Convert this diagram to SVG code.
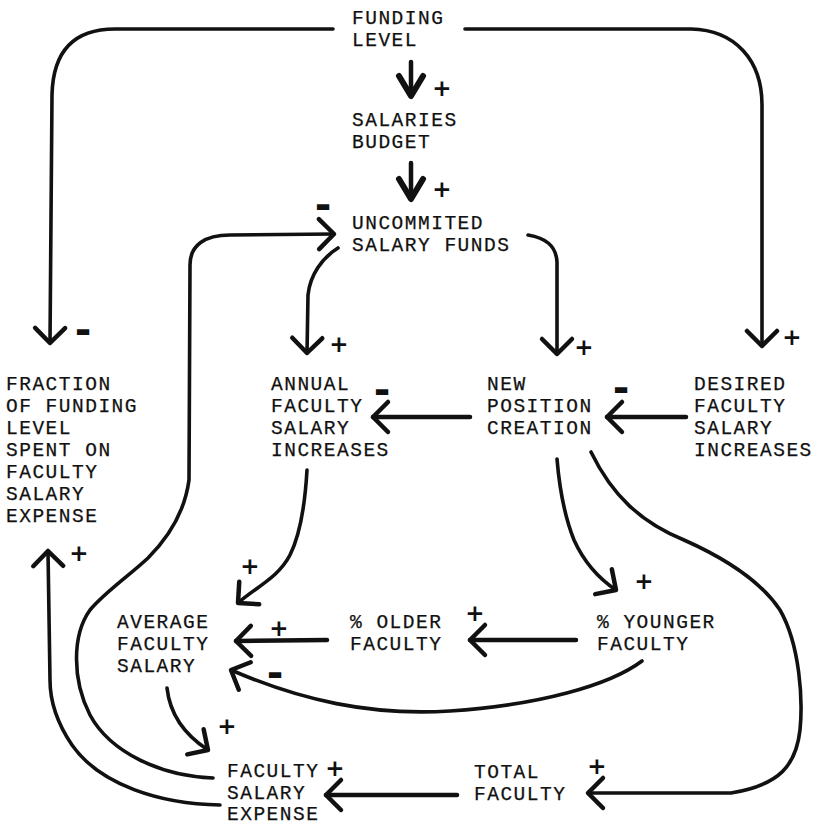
<svg xmlns="http://www.w3.org/2000/svg" width="816" height="827" viewBox="0 0 816 827">
<style>
.t{font-family:"Liberation Mono","DejaVu Sans Mono",monospace;font-size:19.5px;letter-spacing:1.5px;fill:#111;stroke:#111;stroke-width:0.25}
.s{font-family:"DejaVu Sans","Liberation Sans",sans-serif;font-weight:bold;font-size:23px;fill:#111;text-anchor:middle;dominant-baseline:central}
.m{font-family:"DejaVu Sans","Liberation Sans",sans-serif;font-weight:bold;font-size:40px;fill:#111;text-anchor:middle;dominant-baseline:central}
.c{fill:none;stroke:#111;stroke-width:3.6;stroke-linecap:round;stroke-linejoin:round}
.h{stroke-width:4.5}
</style>
<defs>
<marker id="ah" viewBox="-22 -20 27 40" refX="0" refY="0" markerWidth="27" markerHeight="40" orient="auto" markerUnits="userSpaceOnUse" overflow="visible">
<path d="M-15,-15 L0,0 L-15,15" fill="none" stroke="#111" stroke-width="4.5" stroke-linecap="round" stroke-linejoin="round"/>
</marker>
<marker id="ah2" viewBox="-26 -16 31 32" refX="0" refY="0" markerWidth="31" markerHeight="32" orient="auto" markerUnits="userSpaceOnUse" overflow="visible">
<path d="M-20,-12 L0,0 L-20,12" fill="none" stroke="#111" stroke-width="6" stroke-linecap="round" stroke-linejoin="round"/>
</marker>
</defs>

<g id="connectors">
<path class="c h" d="M411,62 L411,96" marker-end="url(#ah2)"/>
<path class="c h" d="M411,163 L411,199" marker-end="url(#ah2)"/>
<path class="c" d="M333,29 L115,29 C75,29 53,50 52,95 L50,343" marker-end="url(#ah)"/>
<path class="c" d="M465,29 L691,29 C735,30 762,60 762,105 L762,346" marker-end="url(#ah)"/>
<path class="c" d="M213,778 C160,776 110,752 90,715 C72,680 72,635 90,610 C105,592 130,575 148,558 C170,536 185,510 189,480 L190,265 C190,245 205,235 230,235 L334,234" marker-end="url(#ah)"/>
<path class="c" d="M220,805 C160,804 100,785 72,745 C55,720 50,700 50,680 L48,551" marker-end="url(#ah)"/>
<path class="c" d="M338,248 C322,258 310,275 308,295 L307,353" marker-end="url(#ah)"/>
<path class="c" d="M528,235 C545,238 556,245 557,262 L557,354" marker-end="url(#ah)"/>
<path class="c h" d="M470,417 L373,417" marker-end="url(#ah)"/>
<path class="c h" d="M686,417 L607,417" marker-end="url(#ah)"/>
<path class="c" d="M307,470 C305,505 300,535 290,555 C278,578 256,587 238,603" marker-end="url(#ah)"/>
<path class="c" d="M557,459 C560,495 566,520 574,540 C584,562 598,578 616,590" marker-end="url(#ah)"/>
<path class="c" d="M591,452 C612,495 640,522 684,540 C720,556 760,580 780,610 C800,645 803,700 800,730 C796,765 780,785 731,793 L588,793" marker-end="url(#ah)"/>
<path class="c h" d="M327,640 L236,641" marker-end="url(#ah)"/>
<path class="c h" d="M576,640 L470,640" marker-end="url(#ah)"/>
<path class="c" d="M642,661 C610,685 540,705 450,711 C370,716 300,700 231,670" marker-end="url(#ah)"/>
<path class="c" d="M167,688 C170,715 185,735 208,750" marker-end="url(#ah)"/>
<path class="c h" d="M457,795 L326,795" marker-end="url(#ah)"/>
</g>

<g id="signs">
<text class="s" x="442" y="88">+</text>
<text class="s" x="442" y="189">+</text>
<text class="m" x="323" y="205">-</text>
<text class="m" x="83" y="330">-</text>
<text class="s" x="792" y="337">+</text>
<text class="s" x="339" y="344">+</text>
<text class="s" x="584" y="347">+</text>
<text class="m" x="382" y="390">-</text>
<text class="m" x="621" y="388">-</text>
<text class="s" x="79" y="553">+</text>
<text class="s" x="250" y="566">+</text>
<text class="s" x="644" y="581">+</text>
<text class="s" x="279" y="628">+</text>
<text class="s" x="475" y="613">+</text>
<text class="m" x="275" y="673">-</text>
<text class="s" x="227" y="726">+</text>
<text class="s" x="335" y="768">+</text>
<text class="s" x="597" y="766">+</text>
</g>

<g id="funding-level"><text class="t" x="352" y="24">FUNDING</text><text class="t" x="352" y="46">LEVEL</text></g>
<g id="salaries-budget"><text class="t" x="352" y="126">SALARIES</text><text class="t" x="352" y="148">BUDGET</text></g>
<g id="uncommited-salary-funds"><text class="t" x="352" y="229">UNCOMMITED</text><text class="t" x="352" y="251">SALARY FUNDS</text></g>
<g id="fraction"><text class="t" x="6" y="390">FRACTION</text><text class="t" x="6" y="412">OF FUNDING</text><text class="t" x="6" y="434">LEVEL</text><text class="t" x="6" y="456">SPENT ON</text><text class="t" x="6" y="478">FACULTY</text><text class="t" x="6" y="500">SALARY</text><text class="t" x="6" y="522">EXPENSE</text></g>
<g id="annual-increases"><text class="t" x="271" y="390">ANNUAL</text><text class="t" x="271" y="412">FACULTY</text><text class="t" x="271" y="434">SALARY</text><text class="t" x="271" y="456">INCREASES</text></g>
<g id="new-position-creation"><text class="t" x="487" y="390">NEW</text><text class="t" x="487" y="412">POSITION</text><text class="t" x="487" y="434">CREATION</text></g>
<g id="desired-increases"><text class="t" x="694" y="390">DESIRED</text><text class="t" x="694" y="412">FACULTY</text><text class="t" x="694" y="434">SALARY</text><text class="t" x="694" y="456">INCREASES</text></g>
<g id="average-salary"><text class="t" x="117" y="628">AVERAGE</text><text class="t" x="117" y="650">FACULTY</text><text class="t" x="117" y="672">SALARY</text></g>
<g id="older-faculty"><text class="t" x="350" y="628">% OLDER</text><text class="t" x="350" y="650">FACULTY</text></g>
<g id="younger-faculty"><text class="t" x="597" y="628">% YOUNGER</text><text class="t" x="597" y="650">FACULTY</text></g>
<g id="salary-expense"><text class="t" x="227" y="777">FACULTY</text><text class="t" x="227" y="799">SALARY</text><text class="t" x="227" y="820">EXPENSE</text></g>
<g id="total-faculty"><text class="t" x="474" y="778">TOTAL</text><text class="t" x="474" y="800">FACULTY</text></g>
</svg>
